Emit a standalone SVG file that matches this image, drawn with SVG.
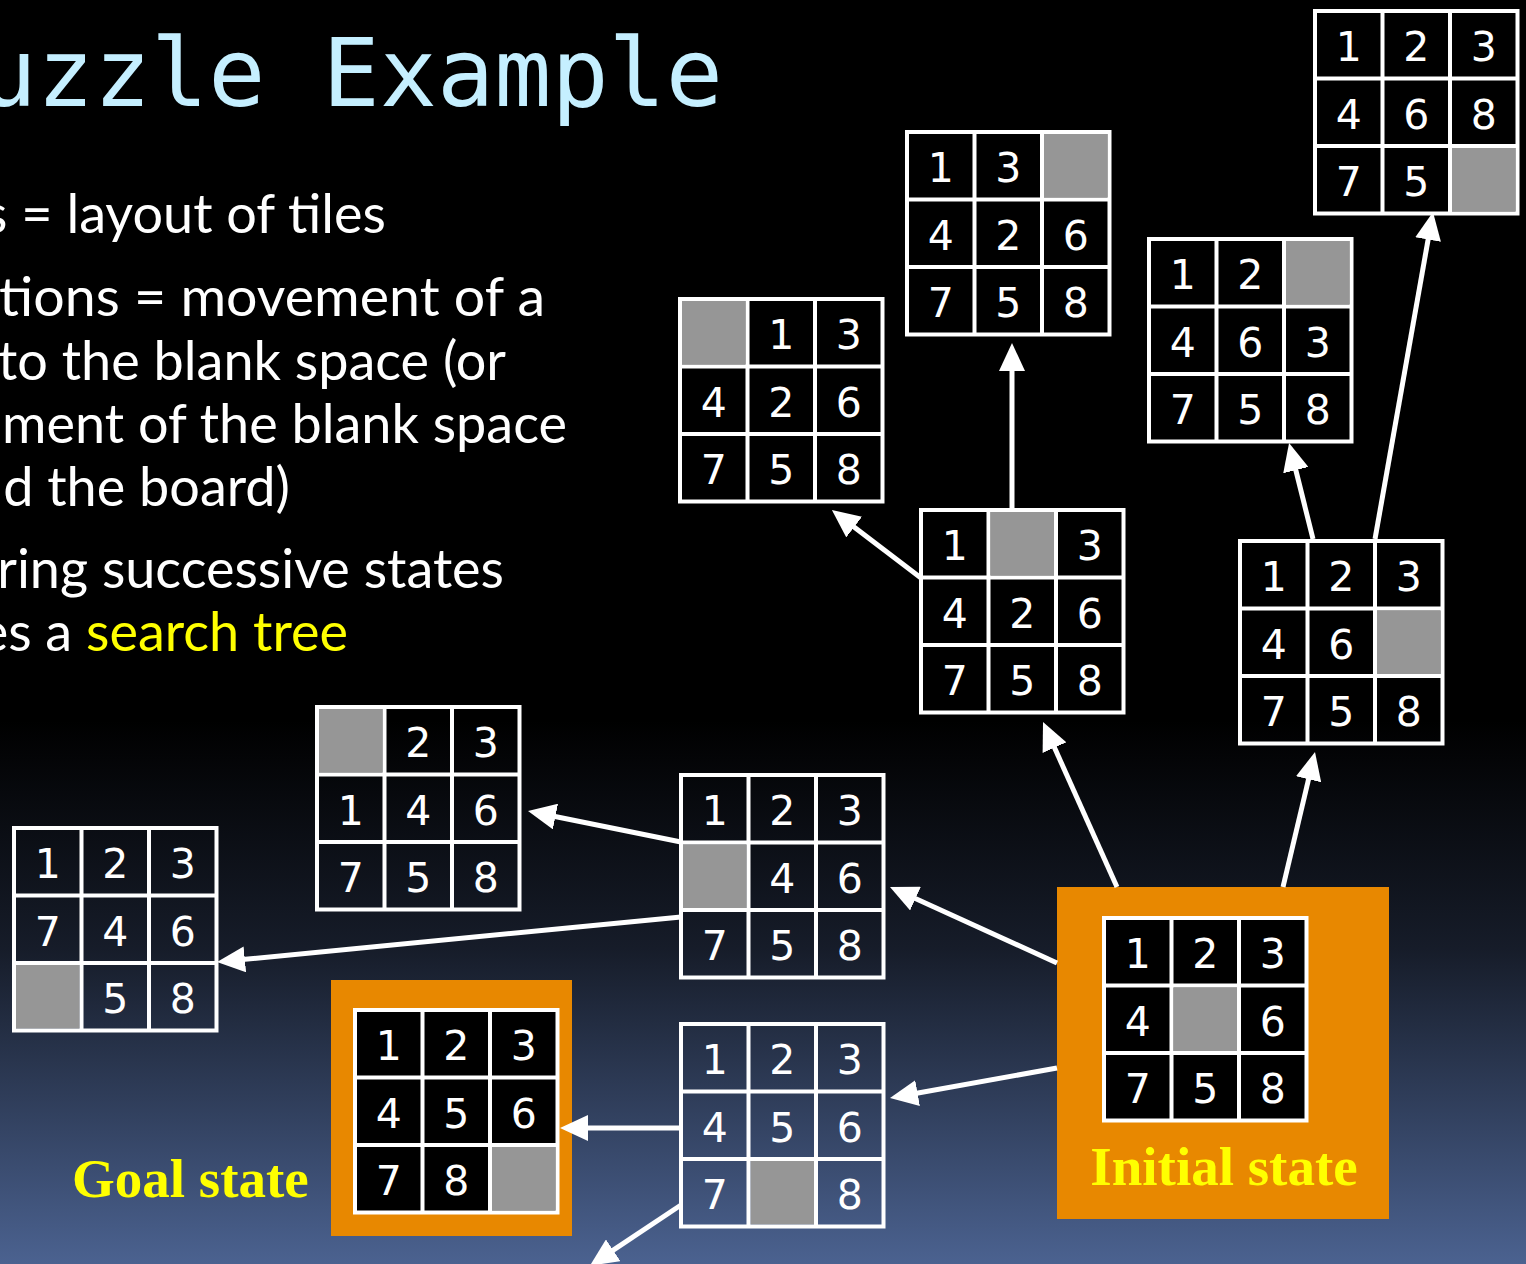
<svg xmlns="http://www.w3.org/2000/svg" xmlns:xlink="http://www.w3.org/1999/xlink" width="1526" height="1264" viewBox="0 0 1526 1264">
  <defs>
    <linearGradient id="bg" x1="0" y1="0" x2="0" y2="1264" gradientUnits="userSpaceOnUse">
      <stop offset="0" stop-color="#000000"/>
      <stop offset="0.57" stop-color="#000000"/>
      <stop offset="0.75" stop-color="#161c29"/>
      <stop offset="1" stop-color="#4b6290"/>
    </linearGradient>
    <!-- 3x3 board outline, cell = 67.5 -->
    <g id="frame" fill="none" stroke="#ffffff" stroke-width="4">
      <rect x="0" y="0" width="202.5" height="202.5"/>
      <line x1="67.5" y1="0" x2="67.5" y2="202.5"/>
      <line x1="135" y1="0" x2="135" y2="202.5"/>
      <line x1="0" y1="67.5" x2="202.5" y2="67.5"/>
      <line x1="0" y1="135" x2="202.5" y2="135"/>
    </g>
    <marker id="head" viewBox="0 0 28 26" refX="8" refY="13" markerWidth="28" markerHeight="26" markerUnits="userSpaceOnUse" orient="auto">
      <path d="M0,0 L28,13 L0,26 z" fill="#ffffff"/>
    </marker>
    <style>
      .d { font-family: "DejaVu Sans", "Liberation Sans", sans-serif; font-size: 41px; fill: #ffffff; text-anchor: middle; }
      .blank { fill: #969696; }
      .solid { fill: #000000; }
      .box { fill: #e88800; }
      .body { font-family: Lato, "Open Sans", sans-serif; font-size: 54px; fill: #ffffff; text-anchor: end; }
      .hl { fill: #ffff00; }
      .label { font-family: "Liberation Serif", serif; font-weight: bold; font-size: 55px; fill: #ffff00; }
      .title { font-family: "DejaVu Sans Mono", "Liberation Mono", monospace; font-size: 95px; fill: #c5efff; text-anchor: end; }
      .edge { fill: none; stroke: #ffffff; stroke-width: 5; marker-end: url(#head); }
    </style>
  </defs>

  <rect x="0" y="0" width="1526" height="1264" fill="url(#bg)"/>

  <!-- heading and bullet text -->
  <g id="heading">
    <text class="title" x="723" y="106">uzzle Example</text>
  </g>
  <g id="bullets">
    <text class="body" x="386" y="233">s = layout of tiles</text>
    <text class="body" x="545" y="316" textLength="546" lengthAdjust="spacingAndGlyphs">tions = movement of a</text>
    <text class="body" x="506" y="380">to the blank space (or</text>
    <text class="body" x="567" y="443">ment of the blank space</text>
    <text class="body" x="290" y="506">d the board)</text>
    <text class="body" x="504" y="588">ring successive states</text>
    <text class="body" x="348" y="651">es a <tspan class="hl">search tree</tspan></text>
  </g>

  <!-- orange state boxes -->
  <g id="goal">
    <rect class="box" x="331" y="980" width="241" height="256"/>
    <g transform="translate(355,1010)">
      <rect class="solid" x="0" y="0" width="202.5" height="202.5"/>
      <rect class="blank" x="137" y="137" width="63.5" height="63.5"/>
      <use xlink:href="#frame"/>
      <text class="d" x="33.75" y="50">1</text><text class="d" x="101.25" y="50">2</text><text class="d" x="168.75" y="50">3</text>
      <text class="d" x="33.75" y="117.5">4</text><text class="d" x="101.25" y="117.5">5</text><text class="d" x="168.75" y="117.5">6</text>
      <text class="d" x="33.75" y="185">7</text><text class="d" x="101.25" y="185">8</text>
    </g>
    <text class="label" x="72" y="1197">Goal state</text>
  </g>

  <g id="initial">
    <rect class="box" x="1057" y="887" width="332" height="332"/>
    <g transform="translate(1104,918)">
      <rect class="solid" x="0" y="0" width="202.5" height="202.5"/>
      <rect class="blank" x="69.5" y="69.5" width="63.5" height="63.5"/>
      <use xlink:href="#frame"/>
      <text class="d" x="33.75" y="50">1</text><text class="d" x="101.25" y="50">2</text><text class="d" x="168.75" y="50">3</text>
      <text class="d" x="33.75" y="117.5">4</text><text class="d" x="168.75" y="117.5">6</text>
      <text class="d" x="33.75" y="185">7</text><text class="d" x="101.25" y="185">5</text><text class="d" x="168.75" y="185">8</text>
    </g>
    <text class="label" x="1224" y="1185" text-anchor="middle">Initial state</text>
  </g>

  <!-- search tree states -->
  <g id="s-123-468-75b" transform="translate(1315,11)">
    <rect class="blank" x="137" y="137" width="63.5" height="63.5"/>
    <use xlink:href="#frame"/>
    <text class="d" x="33.75" y="50">1</text><text class="d" x="101.25" y="50">2</text><text class="d" x="168.75" y="50">3</text>
    <text class="d" x="33.75" y="117.5">4</text><text class="d" x="101.25" y="117.5">6</text><text class="d" x="168.75" y="117.5">8</text>
    <text class="d" x="33.75" y="185">7</text><text class="d" x="101.25" y="185">5</text>
  </g>

  <g id="s-13b-426-758" transform="translate(907,132)">
    <rect class="blank" x="137" y="2" width="63.5" height="63.5"/>
    <use xlink:href="#frame"/>
    <text class="d" x="33.75" y="50">1</text><text class="d" x="101.25" y="50">3</text>
    <text class="d" x="33.75" y="117.5">4</text><text class="d" x="101.25" y="117.5">2</text><text class="d" x="168.75" y="117.5">6</text>
    <text class="d" x="33.75" y="185">7</text><text class="d" x="101.25" y="185">5</text><text class="d" x="168.75" y="185">8</text>
  </g>

  <g id="s-12b-463-758" transform="translate(1149,239)">
    <rect class="blank" x="137" y="2" width="63.5" height="63.5"/>
    <use xlink:href="#frame"/>
    <text class="d" x="33.75" y="50">1</text><text class="d" x="101.25" y="50">2</text>
    <text class="d" x="33.75" y="117.5">4</text><text class="d" x="101.25" y="117.5">6</text><text class="d" x="168.75" y="117.5">3</text>
    <text class="d" x="33.75" y="185">7</text><text class="d" x="101.25" y="185">5</text><text class="d" x="168.75" y="185">8</text>
  </g>

  <g id="s-b13-426-758" transform="translate(680,299)">
    <rect class="blank" x="2" y="2" width="63.5" height="63.5"/>
    <use xlink:href="#frame"/>
    <text class="d" x="101.25" y="50">1</text><text class="d" x="168.75" y="50">3</text>
    <text class="d" x="33.75" y="117.5">4</text><text class="d" x="101.25" y="117.5">2</text><text class="d" x="168.75" y="117.5">6</text>
    <text class="d" x="33.75" y="185">7</text><text class="d" x="101.25" y="185">5</text><text class="d" x="168.75" y="185">8</text>
  </g>

  <g id="s-1b3-426-758" transform="translate(921,510)">
    <rect class="blank" x="69.5" y="2" width="63.5" height="63.5"/>
    <use xlink:href="#frame"/>
    <text class="d" x="33.75" y="50">1</text><text class="d" x="168.75" y="50">3</text>
    <text class="d" x="33.75" y="117.5">4</text><text class="d" x="101.25" y="117.5">2</text><text class="d" x="168.75" y="117.5">6</text>
    <text class="d" x="33.75" y="185">7</text><text class="d" x="101.25" y="185">5</text><text class="d" x="168.75" y="185">8</text>
  </g>

  <g id="s-123-46b-758" transform="translate(1240,541)">
    <rect class="blank" x="137" y="69.5" width="63.5" height="63.5"/>
    <use xlink:href="#frame"/>
    <text class="d" x="33.75" y="50">1</text><text class="d" x="101.25" y="50">2</text><text class="d" x="168.75" y="50">3</text>
    <text class="d" x="33.75" y="117.5">4</text><text class="d" x="101.25" y="117.5">6</text>
    <text class="d" x="33.75" y="185">7</text><text class="d" x="101.25" y="185">5</text><text class="d" x="168.75" y="185">8</text>
  </g>

  <g id="s-b23-146-758" transform="translate(317,707)">
    <rect class="blank" x="2" y="2" width="63.5" height="63.5"/>
    <use xlink:href="#frame"/>
    <text class="d" x="101.25" y="50">2</text><text class="d" x="168.75" y="50">3</text>
    <text class="d" x="33.75" y="117.5">1</text><text class="d" x="101.25" y="117.5">4</text><text class="d" x="168.75" y="117.5">6</text>
    <text class="d" x="33.75" y="185">7</text><text class="d" x="101.25" y="185">5</text><text class="d" x="168.75" y="185">8</text>
  </g>

  <g id="s-123-b46-758" transform="translate(681,775)">
    <rect class="blank" x="2" y="69.5" width="63.5" height="63.5"/>
    <use xlink:href="#frame"/>
    <text class="d" x="33.75" y="50">1</text><text class="d" x="101.25" y="50">2</text><text class="d" x="168.75" y="50">3</text>
    <text class="d" x="101.25" y="117.5">4</text><text class="d" x="168.75" y="117.5">6</text>
    <text class="d" x="33.75" y="185">7</text><text class="d" x="101.25" y="185">5</text><text class="d" x="168.75" y="185">8</text>
  </g>

  <g id="s-123-746-b58" transform="translate(14,828)">
    <rect class="blank" x="2" y="137" width="63.5" height="63.5"/>
    <use xlink:href="#frame"/>
    <text class="d" x="33.75" y="50">1</text><text class="d" x="101.25" y="50">2</text><text class="d" x="168.75" y="50">3</text>
    <text class="d" x="33.75" y="117.5">7</text><text class="d" x="101.25" y="117.5">4</text><text class="d" x="168.75" y="117.5">6</text>
    <text class="d" x="101.25" y="185">5</text><text class="d" x="168.75" y="185">8</text>
  </g>

  <g id="s-123-456-7b8" transform="translate(681,1024)">
    <rect class="blank" x="69.5" y="137" width="63.5" height="63.5"/>
    <use xlink:href="#frame"/>
    <text class="d" x="33.75" y="50">1</text><text class="d" x="101.25" y="50">2</text><text class="d" x="168.75" y="50">3</text>
    <text class="d" x="33.75" y="117.5">4</text><text class="d" x="101.25" y="117.5">5</text><text class="d" x="168.75" y="117.5">6</text>
    <text class="d" x="33.75" y="185">7</text><text class="d" x="168.75" y="185">8</text>
  </g>

  <!-- moves of the blank -->
  <g id="edges">
    <path class="edge" d="M1057,963 L908.2,895.3"/>
    <path class="edge" d="M1057,1068 L909.7,1094.5"/>
    <path class="edge" d="M1117,887 L1051.2,740.3"/>
    <path class="edge" d="M1283,887 L1310.4,771.5"/>
    <path class="edge" d="M681,1128 L580,1128"/>
    <path class="edge" d="M681,1205 L606.5,1254.7"/>
    <path class="edge" d="M681,842 L547.6,815"/>
    <path class="edge" d="M681,917 L236.9,960.1"/>
    <path class="edge" d="M921,578 L847.8,522.2"/>
    <path class="edge" d="M1012,510 L1012,363"/>
    <path class="edge" d="M1313,539 L1293.9,462.4"/>
    <path class="edge" d="M1375,539 L1429.5,231.7"/>
  </g>
</svg>
